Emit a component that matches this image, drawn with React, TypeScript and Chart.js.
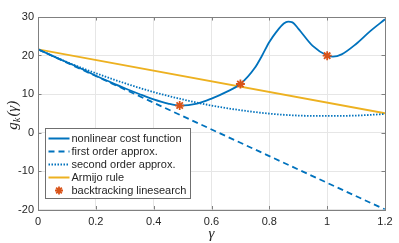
import React, { useEffect, useRef } from 'react';
import { Chart, registerables } from 'chart.js';
Chart.register(...registerables);

const xTicks = [0, 0.2, 0.4, 0.6, 0.8, 1, 1.2];
const yTicks = [-20, -10, 0, 10, 20, 30];

const nlGamma = [0, 0.05, 0.1, 0.15, 0.2, 0.25, 0.3, 0.35, 0.4, 0.45, 0.49, 0.55, 0.6, 0.65, 0.7, 0.75, 0.775, 0.8, 0.825, 0.85, 0.865, 0.88, 0.9, 0.95, 1.0, 1.02, 1.05, 1.1, 1.15, 1.2];
const nlCost = [21.6, 19.9, 18.25, 16.55, 14.75, 13.1, 11.5, 10.0, 8.6, 7.5, 7.0, 7.5, 8.8, 10.5, 12.6, 16.8, 20.0, 23.5, 26.2, 28.3, 28.8, 28.6, 27.0, 22.5, 20.0, 19.7, 20.3, 23.0, 26.4, 29.4];

const linGamma = [0, 1.2];
const firstOrder = [21.6, -20];
const armijo = [21.6, 5.0];

const qGamma = [0, 0.1, 0.2, 0.3, 0.4, 0.5, 0.6, 0.7, 0.8, 0.9, 1.0, 1.1, 1.2];
const secondOrder = [21.6, 18.3, 15.4, 12.8, 10.5, 8.6, 7.0, 5.8, 4.9, 4.4, 4.3, 4.4, 4.8];

const btGamma = [0.49, 0.7, 1.0];
const btCost = [7.0, 12.6, 19.95];

const seriesLabels = ['nonlinear cost function', 'first order approx.', 'second order approx.', 'Armijo rule', 'backtracking linesearch'];

const BLUE = '#0072BD';
const ORANGE = '#D95319';
const YELLOW = '#EDB120';
const AXIS = '#808080';
const TXT = '#262626';
const FONT = '"Liberation Sans", Arial, sans-serif';

const pts = (xs: number[], ys: number[]) => xs.map((x, i) => ({ x, y: ys[i] }));

function drawStar(ctx: CanvasRenderingContext2D, x: number, y: number, r: number) {
  ctx.save();
  ctx.strokeStyle = ORANGE;
  ctx.lineWidth = 1.8;
  ctx.setLineDash([]);
  ctx.beginPath();
  for (let k = 0; k < 4; k++) {
    const a = (k * Math.PI) / 4;
    ctx.moveTo(x - r * Math.cos(a), y - r * Math.sin(a));
    ctx.lineTo(x + r * Math.cos(a), y + r * Math.sin(a));
  }
  ctx.stroke();
  ctx.restore();
}

const overlay = {
  id: 'overlay',
  afterDraw(chart: any) {
    const { ctx, chartArea: a, scales } = chart;
    ctx.save();
    // frame
    ctx.strokeStyle = AXIS;
    ctx.lineWidth = 1;
    ctx.setLineDash([]);
    ctx.strokeRect(Math.round(a.left) + 0.5, Math.round(a.top) + 0.5, Math.round(a.right - a.left), Math.round(a.bottom - a.top));
    // inward ticks
    ctx.beginPath();
    xTicks.forEach((v) => {
      const x = Math.round(scales.x.getPixelForValue(v)) + 0.5;
      ctx.moveTo(x, a.bottom); ctx.lineTo(x, a.bottom - 3.5);
      ctx.moveTo(x, a.top); ctx.lineTo(x, a.top + 3.5);
    });
    yTicks.forEach((v) => {
      const y = Math.round(scales.y.getPixelForValue(v)) + 0.5;
      ctx.moveTo(a.left, y); ctx.lineTo(a.left + 3.5, y);
      ctx.moveTo(a.right, y); ctx.lineTo(a.right - 3.5, y);
    });
    ctx.stroke();

    // legend
    const lx = Math.round(a.left) + 7.5;
    const ly = 128.5;
    const lw = 145;
    const lh = 70;
    ctx.fillStyle = '#ffffff';
    ctx.fillRect(lx, ly, lw, lh);
    ctx.strokeStyle = '#6f6f6f';
    ctx.strokeRect(lx, ly, lw, lh);
    const rowY = [138.5, 151.5, 164.5, 177.5, 190.5];
    const styles: Array<{ color: string; dash: number[] } | null> = [
      { color: BLUE, dash: [] },
      { color: BLUE, dash: [6, 4] },
      { color: BLUE, dash: [1.5, 1.5] },
      { color: YELLOW, dash: [] },
      null,
    ];
    ctx.font = `11px ${FONT}`;
    ctx.textBaseline = 'middle';
    ctx.textAlign = 'left';
    seriesLabels.forEach((lab, i) => {
      const y = rowY[i];
      const s = styles[i];
      if (s) {
        ctx.save();
        ctx.strokeStyle = s.color;
        ctx.lineWidth = 2;
        ctx.setLineDash(s.dash);
        ctx.beginPath();
        ctx.moveTo(lx + 3, y);
        ctx.lineTo(lx + 24, y);
        ctx.stroke();
        ctx.restore();
      } else {
        drawStar(ctx, lx + 13.5, y, 4);
      }
      ctx.fillStyle = TXT;
      ctx.fillText(lab, lx + 26, y + 0.5);
    });

    // x title
    ctx.fillStyle = TXT;
    ctx.font = `italic 15px "Liberation Serif", "DejaVu Serif", serif`;
    ctx.textAlign = 'center';
    ctx.textBaseline = 'alphabetic';
    ctx.fillText('γ', (a.left + a.right) / 2, 238);

    // y title g_k(γ)
    ctx.save();
    ctx.translate(17, (a.top + a.bottom) / 2 + 2);
    ctx.rotate(-Math.PI / 2);
    const big = `italic 15px "Liberation Serif", "DejaVu Serif", serif`;
    const small = `italic 10.5px "Liberation Serif", "DejaVu Serif", serif`;
    ctx.textAlign = 'left';
    ctx.font = big;
    const wg = ctx.measureText('g').width;
    const wp = ctx.measureText('(γ)').width;
    ctx.font = small;
    const wk = ctx.measureText('k').width;
    const total = wg + wk + wp + 1;
    let x0 = -total / 2;
    ctx.font = big;
    ctx.fillText('g', x0, 0);
    x0 += wg;
    ctx.font = small;
    ctx.fillText('k', x0, 3);
    x0 += wk + 1;
    ctx.font = big;
    ctx.fillText('(γ)', x0, 0);
    ctx.restore();

    ctx.restore();
  },
};

export default function App() {
  const ref = useRef<HTMLCanvasElement | null>(null);
  useEffect(() => {
    if (!ref.current) return;
    const chart = new Chart(ref.current, {
      type: 'line',
      data: {
        datasets: [
          {
            type: 'scatter',
            label: seriesLabels[4],
            data: pts(btGamma, btCost),
            pointStyle: 'star',
            radius: 4.5,
            borderColor: ORANGE,
            backgroundColor: ORANGE,
            borderWidth: 1.8,
            showLine: false,
            order: 0,
          } as any,
          {
            label: seriesLabels[0],
            data: pts(nlGamma, nlCost),
            borderColor: BLUE,
            borderWidth: 1.8,
            pointRadius: 0,
            cubicInterpolationMode: 'monotone',
            order: 1,
          },
          {
            label: seriesLabels[1],
            data: pts(linGamma, firstOrder),
            borderColor: BLUE,
            borderWidth: 1.8,
            borderDash: [6, 4],
            pointRadius: 0,
            order: 2,
          },
          {
            label: seriesLabels[2],
            data: pts(qGamma, secondOrder),
            borderColor: BLUE,
            borderWidth: 1.8,
            borderDash: [1.5, 1.5],
            pointRadius: 0,
            cubicInterpolationMode: 'monotone',
            order: 3,
          },
          {
            label: seriesLabels[3],
            data: pts(linGamma, armijo),
            borderColor: YELLOW,
            borderWidth: 1.8,
            pointRadius: 0,
            order: 4,
          },
        ],
      },
      options: {
        animation: false,
        responsive: false,
        maintainAspectRatio: false,
        layout: { padding: { left: 0, right: 14, top: 17, bottom: 0 } },
        plugins: { legend: { display: false }, tooltip: { enabled: false } },
        scales: {
          x: {
            type: 'linear',
            min: 0,
            max: 1.2,
            afterBuildTicks: (s: any) => { s.ticks = xTicks.map((v) => ({ value: v })); },
            afterFit: (s: any) => { s.height = 33.5; },
            ticks: {
              color: TXT,
              font: { family: FONT, size: 11 },
              padding: 6,
              maxRotation: 0,
              callback: (v: any) => String(Number(Number(v).toFixed(1))),
            },
            grid: { color: '#e6e6e6', drawTicks: false },
            border: { display: false },
          },
          y: {
            type: 'linear',
            min: -20,
            max: 30,
            afterBuildTicks: (s: any) => { s.ticks = yTicks.map((v) => ({ value: v })); },
            afterFit: (s: any) => { s.width = 38; },
            ticks: {
              color: TXT,
              font: { family: FONT, size: 11 },
              padding: 4,
              callback: (v: any) => String(v),
            },
            grid: { color: '#e6e6e6', drawTicks: false },
            border: { display: false },
          },
        },
      },
      plugins: [overlay],
    } as any);
    return () => chart.destroy();
  }, []);
  return (
    <div style={{ position: 'absolute', left: 0, top: 0, width: 399, height: 243, background: '#fff' }}>
      <canvas ref={ref} width={399} height={243} style={{ width: 399, height: 243, display: 'block' }} />
    </div>
  );
}
